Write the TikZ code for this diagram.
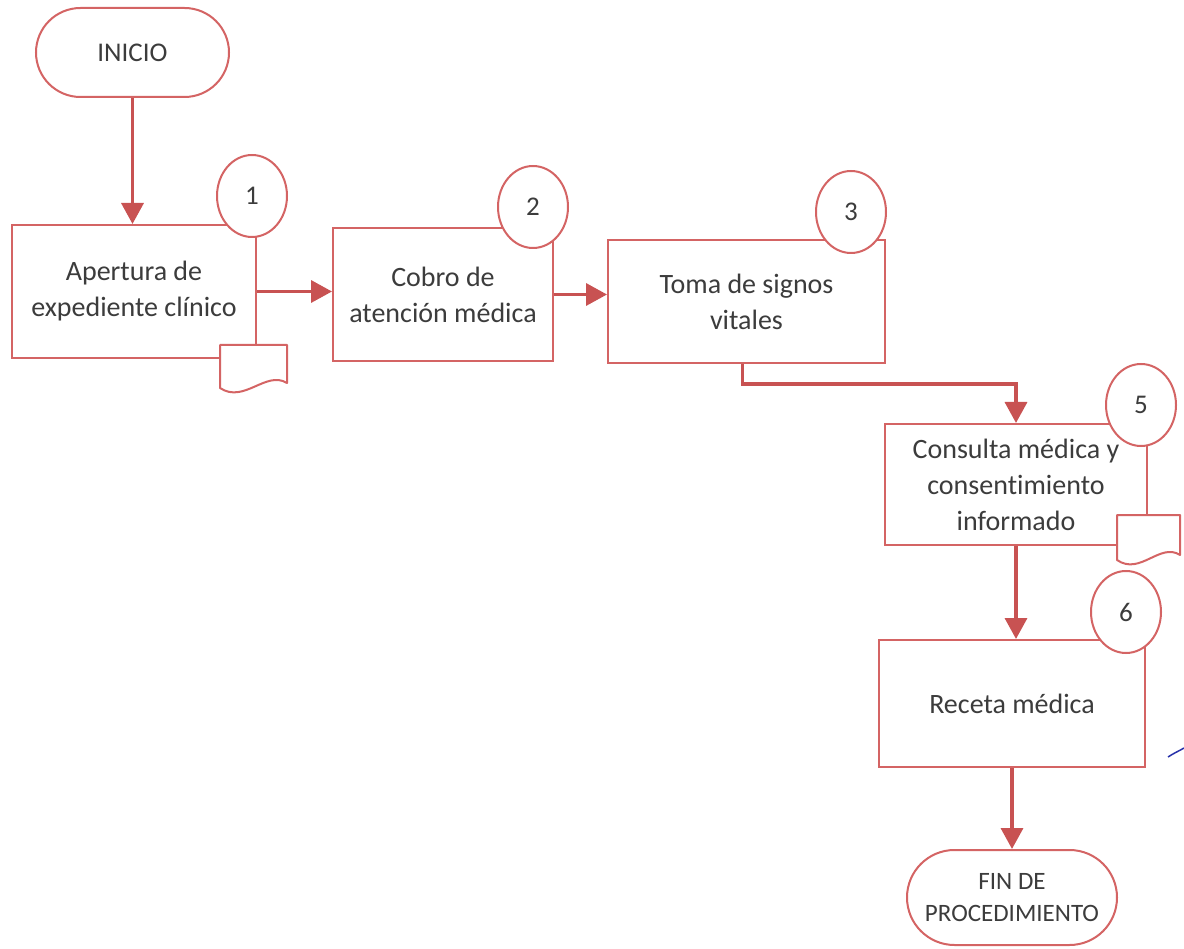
\documentclass[tikz,border=0pt]{standalone}
\usepackage{fontspec}
\setmainfont[Ligatures={NoCommon}]{Carlito}
\usetikzlibrary{arrows.meta,shapes.misc,shapes.geometric}
\definecolor{boxred}{RGB}{212,100,100}
\definecolor{linered}{RGB}{200,82,82}
\definecolor{txt}{RGB}{60,60,60}
\definecolor{penblue}{RGB}{40,50,170}
\begin{document}
\begin{tikzpicture}[x=1pt,y=-1pt,
  stepbox/.style={draw=boxred,line width=2pt,fill=white,rectangle,inner sep=0pt,align=center,text=txt,font=\fontsize{28}{36}\selectfont},
  boxtext/.style={inner sep=0pt,align=center,text=txt,font=\fontsize{28}{36}\selectfont},
  term/.style={draw=boxred,line width=2pt,fill=white,rounded rectangle,inner sep=0pt,align=center,text=txt},
  numcirc/.style={ellipse,draw=boxred,line width=2pt,fill=white,inner sep=0pt,minimum width=70pt,minimum height=82pt,text=txt,font=\fontsize{27}{27}\selectfont},
  flow/.style={draw=linered,line width=3.5pt,-{Triangle[width=22pt,length=21pt]}},
  docshape/.style={draw=boxred,line width=2pt,fill=white,line join=round}]
\useasboundingbox (0,0) rectangle (1184,949);

% terminals
\node[term,minimum width=193pt,minimum height=89pt,font=\fontsize{27}{30}\selectfont] (inicio) at (132.5,52.5) {INICIO};
\node[term,minimum width=210pt,minimum height=95pt,font=\fontsize{25}{32}\selectfont] (fin) at (1012,897.5) {FIN DE\\PROCEDIMIENTO};

% process boxes
\node[stepbox,minimum width=244pt,minimum height=133pt] (b1) at (134,291.5) {Apertura de\\expediente clínico};
\node[stepbox,minimum width=220pt,minimum height=133pt] (b2) at (443,294.5) {Cobro de\\atención médica};
\node[stepbox,minimum width=277pt,minimum height=123pt] (b3) at (746.5,301.5) {Toma de signos\\vitales};
\node[stepbox,minimum width=262pt,minimum height=121pt] (b5) at (1016,484.5) {};
\node[stepbox,minimum width=266pt,minimum height=127pt] (b6) at (1012,703.5) {Receta médica};

% documents
\draw[docshape] (220,345) -- (287,345) -- (287,383)
  .. controls (266,370) and (244,404) .. (220,388) -- cycle;
\draw[docshape] (1117,515) -- (1180,515) -- (1180,555)
  .. controls (1160,542) and (1140,576) .. (1117,560) -- cycle;

% number circles
\node[numcirc] (c1) at (252,196) {1};
\node[numcirc] (c2) at (533,207) {2};
\node[numcirc] (c3) at (851,212) {3};
\node[numcirc] (c5) at (1141,405) {5};
\node[numcirc] (c6) at (1126,612) {6};

\node[boxtext] (t5) at (b5) {Consulta médica y\\consentimiento\\informado};

% connectors
\draw[flow] (inicio.south) -- (inicio.south |- b1.north);
\draw[flow] (b1.east) -- (b1.east -| b2.west);
\draw[flow] (b2.east) -- (b2.east -| b3.west);
\coordinate (b3out) at ([xshift=-4pt]b3.south);
\draw[flow] (b3out) -- ++(0,20) -| (b5.north);
\draw[flow] (b5.south) -- (b5.south |- b6.north);
\draw[flow] (b6.south) -- (fin.north);

% stray pen mark
\draw[penblue,line width=1.5pt] (1168,757) .. controls (1174,753) and (1179,751) .. (1184,748);
\end{tikzpicture}
\end{document}
